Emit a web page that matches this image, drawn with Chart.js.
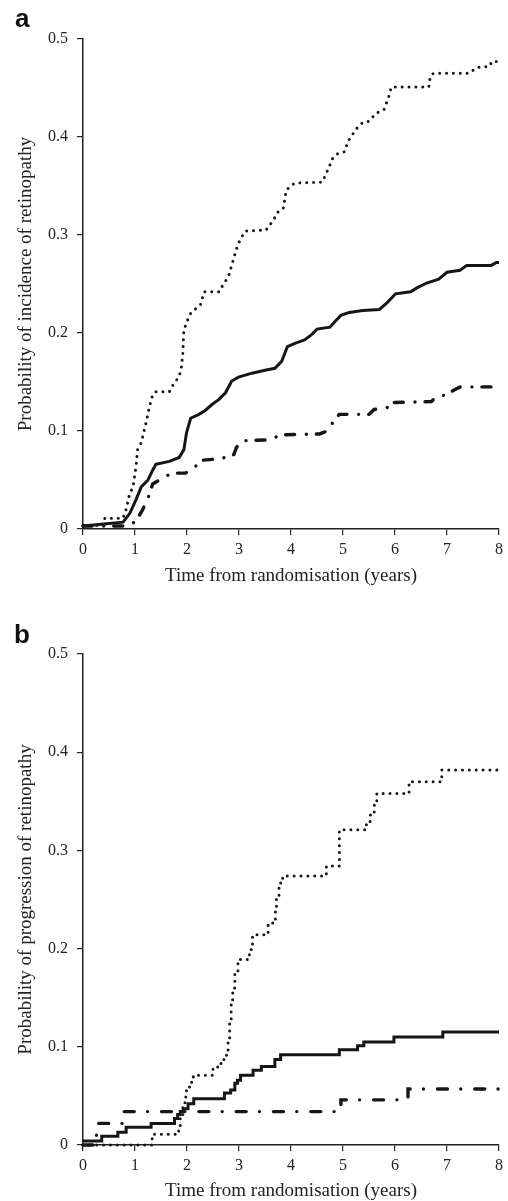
<!DOCTYPE html>
<html>
<head>
<meta charset="utf-8">
<title>Retinopathy incidence and progression</title>
<script src="https://cdn.jsdelivr.net/npm/chart.js@4.4.1/dist/chart.umd.min.js"></script>
<style>
  html, body { margin: 0; padding: 0; background: #fff; overflow: hidden; }
  .panel { position: relative; width: 508px; }
  .tag { position: absolute; font: bold 26px "Liberation Sans", Arial, sans-serif; line-height: 26px; color: #111; }
  canvas { display: block; }
</style>
</head>
<body>
<div class="panel" style="height:600px">
  <span class="tag" style="left:15px;top:5px">a</span>
  <canvas id="chart-a" width="508" height="600"></canvas>
</div>
<div class="panel" style="height:601px">
  <span class="tag" style="left:14px;top:21px">b</span>
  <canvas id="chart-b" width="508" height="601"></canvas>
</div>
<script>
// ---- panel a: incidence of retinopathy ----
const aSolidT = [0, 0.4, 0.77, 0.9, 1.02, 1.12, 1.25, 1.34, 1.4, 1.66, 1.85, 1.94, 1.99, 2.07, 2.23, 2.35, 2.48, 2.61, 2.74, 2.86, 2.99, 3.25, 3.5, 3.69, 3.82, 3.93, 4.1, 4.26, 4.39, 4.5, 4.75, 4.85, 4.96, 5.12, 5.38, 5.7, 5.85, 6.01, 6.3, 6.42, 6.61, 6.84, 7.0, 7.25, 7.38, 7.85, 7.95, 8];
const aSolidP = [0.003, 0.005, 0.007, 0.016, 0.03, 0.043, 0.05, 0.06, 0.066, 0.069, 0.073, 0.081, 0.098, 0.113, 0.117, 0.121, 0.127, 0.132, 0.139, 0.151, 0.155, 0.159, 0.162, 0.164, 0.171, 0.186, 0.19, 0.193, 0.198, 0.204, 0.206, 0.212, 0.218, 0.221, 0.223, 0.224, 0.231, 0.24, 0.242, 0.246, 0.251, 0.255, 0.262, 0.264, 0.269, 0.269, 0.272, 0.272];

const aDotT = [0, 0.4, 0.42, 0.77, 0.83, 0.9, 0.96, 1.02, 1.05, 1.12, 1.21, 1.28, 1.34, 1.4, 1.66, 1.72, 1.85, 1.89, 1.92, 1.94, 2.01, 2.07, 2.17, 2.26, 2.33, 2.62, 2.67, 2.8, 2.87, 2.96, 3.02, 3.12, 3.52, 3.66, 3.74, 3.85, 3.91, 4.07, 4.6, 4.68, 4.8, 4.9, 5.03, 5.09, 5.25, 5.38, 5.5, 5.63, 5.79, 5.88, 5.93, 6.65, 6.68, 6.74, 7.42, 7.58, 7.82, 7.86, 8];
const aDotP = [0.003, 0.004, 0.011, 0.011, 0.02, 0.037, 0.042, 0.064, 0.081, 0.088, 0.108, 0.125, 0.137, 0.14, 0.14, 0.146, 0.156, 0.164, 0.179, 0.203, 0.213, 0.22, 0.225, 0.229, 0.242, 0.242, 0.247, 0.258, 0.271, 0.287, 0.295, 0.304, 0.305, 0.315, 0.323, 0.327, 0.346, 0.353, 0.354, 0.363, 0.378, 0.383, 0.385, 0.395, 0.408, 0.415, 0.416, 0.424, 0.428, 0.441, 0.451, 0.451, 0.462, 0.465, 0.465, 0.471, 0.472, 0.477, 0.477];

const aDashT = [0, 0.86, 1.02, 1.15, 1.26, 1.34, 1.44, 1.59, 1.75, 1.97, 2.13, 2.27, 2.67, 2.9, 2.95, 3.05, 3.6, 3.8, 4.55, 4.7, 4.82, 4.93, 5.5, 5.6, 5.85, 5.9, 6.7, 6.79, 7.0, 7.11, 7.25, 7.9, 8];
const aDashP = [0.003, 0.003, 0.008, 0.02, 0.033, 0.046, 0.049, 0.054, 0.057, 0.057, 0.062, 0.07, 0.072, 0.076, 0.083, 0.09, 0.091, 0.096, 0.097, 0.1, 0.11, 0.117, 0.117, 0.122, 0.124, 0.129, 0.13, 0.135, 0.137, 0.141, 0.145, 0.145, 0.148];

// ---- panel b: progression of retinopathy (step curves) ----
const bSolidT = [0, 0.36, 0.67, 0.83, 1.31, 1.76, 1.82, 1.87, 1.93, 2.02, 2.13, 2.72, 2.84, 2.92, 2.97, 3.03, 3.27, 3.43, 3.69, 3.8, 4.93, 5.28, 5.4, 5.98, 6.92, 8];
const bSolidP = [0.004, 0.009, 0.013, 0.018, 0.022, 0.027, 0.031, 0.034, 0.037, 0.042, 0.047, 0.053, 0.056, 0.063, 0.066, 0.071, 0.076, 0.08, 0.087, 0.092, 0.097, 0.101, 0.105, 0.11, 0.115, 0.115];

const bDotT = [0, 1.33, 1.84, 1.87, 1.92, 1.96, 1.99, 2.05, 2.12, 2.5, 2.59, 2.68, 2.76, 2.79, 2.82, 2.85, 2.88, 2.92, 2.98, 3.2, 3.26, 3.56, 3.7, 3.72, 3.77, 3.8, 3.84, 4.68, 4.93, 5.45, 5.52, 5.6, 5.65, 6.27, 6.32, 6.87, 6.9, 8];
const bDotP = [0, 0.011, 0.019, 0.029, 0.042, 0.049, 0.056, 0.064, 0.071, 0.079, 0.083, 0.087, 0.095, 0.107, 0.127, 0.148, 0.16, 0.175, 0.189, 0.199, 0.214, 0.226, 0.241, 0.253, 0.263, 0.27, 0.274, 0.284, 0.321, 0.328, 0.336, 0.346, 0.358, 0.367, 0.37, 0.375, 0.382, 0.382];

const bDashT = [0, 0.26, 0.79, 4.96, 6.25, 8];
const bDashP = [0, 0.022, 0.034, 0.046, 0.057, 0.057];

const INK = '#161616';
const TXT = '#222';

Chart.defaults.font.family = '"Liberation Serif", "Times New Roman", serif';
Chart.defaults.color = TXT;

function pts(t, p) {
  return t.map((x, i) => ({ x: x, y: p[i] }));
}

function lineSet(t, p, style, stepped, dashDot) {
  const ds = {
    data: pts(t, p),
    borderColor: INK,
    pointRadius: 0,
    tension: 0,
    stepped: stepped,
    clip: false,
    fill: false
  };
  if (style === 'solid') {
    ds.borderWidth = 3;
  } else if (style === 'dot') {
    // zero-length dashes + round caps = dots
    ds.borderWidth = 3;
    ds.borderDash = [0.01, 6.85];
    ds.borderCapStyle = 'round';
  } else {
    ds.borderWidth = 3.4;
    ds.borderDash = dashDot;
    ds.borderCapStyle = 'round';
  }
  return ds;
}

function makePanel(id, cfg) {
  return new Chart(document.getElementById(id), {
    type: 'line',
    data: { datasets: cfg.datasets },
    options: {
      responsive: false,
      animation: false,
      devicePixelRatio: 1,
      layout: { padding: { left: 0, right: 5, top: cfg.top, bottom: 0 } },
      plugins: { legend: { display: false }, tooltip: { enabled: false } },
      scales: {
        x: {
          type: 'linear', min: 0, max: 8,
          ticks: { stepSize: 1, padding: 5, color: TXT, font: { size: 16 } },
          grid: { drawOnChartArea: false, tickLength: 6, color: TXT, lineWidth: 1.2 },
          border: { color: TXT, width: 1.5 },
          title: { display: true, text: 'Time from randomisation (years)', color: TXT,
                   font: { size: 19, lineHeight: 1.1 }, padding: { top: 0, bottom: cfg.xTitlePad } },
          afterFit: s => { s.height = cfg.xHeight; }
        },
        y: {
          min: 0, max: 0.5,
          ticks: { stepSize: 0.1, padding: 9, color: TXT, font: { size: 16 } },
          grid: { drawOnChartArea: false, tickLength: 6, color: TXT, lineWidth: 1.2 },
          border: { color: TXT, width: 1.5 },
          title: { display: true, text: cfg.yTitle, color: TXT,
                   font: { size: 19, lineHeight: 1.1 }, padding: { top: 15.5, bottom: 0 } },
          afterFit: s => { s.width = 83; }
        }
      }
    }
  });
}

makePanel('chart-a', {
  top: 39, xHeight: 71, xTitlePad: 14,
  yTitle: 'Probability of incidence of retinopathy',
  datasets: [
    lineSet(aDotT, aDotP, 'dot', false),
    lineSet(aDashT, aDashP, 'dashdot', false, [9, 11.7, 0.01, 10]),
    lineSet(aSolidT, aSolidP, 'solid', false)
  ]
});

makePanel('chart-b', {
  top: 54, xHeight: 56, xTitlePad: 0,
  yTitle: 'Probability of progression of retinopathy',
  datasets: [
    lineSet(bDotT, bDotP, 'dot', true),
    lineSet(bDashT, bDashP, 'dashdot', true, [10, 13.3, 0.01, 14]),
    lineSet(bSolidT, bSolidP, 'solid', true)
  ]
});
</script>
</body>
</html>
